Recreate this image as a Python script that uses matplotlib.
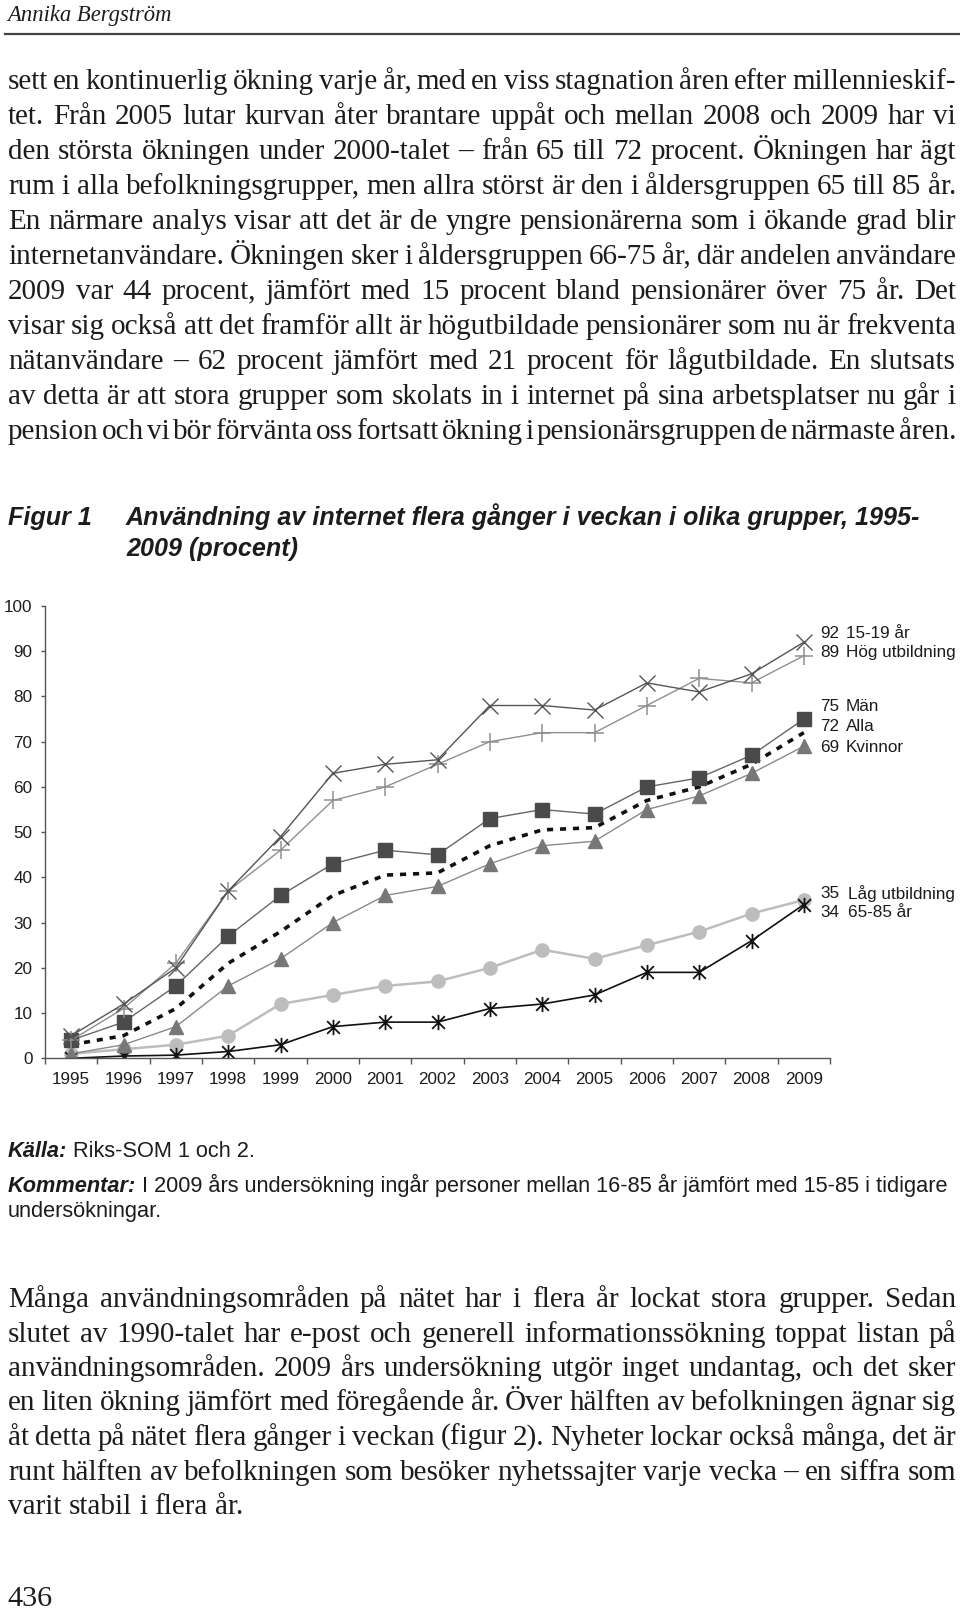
import matplotlib
matplotlib.use('Agg')
import numpy as np
import matplotlib.pyplot as plt
from matplotlib.path import Path

# chart data (percent)
years = list(range(1995, 2010))
aged_15_19 = [5, 12, 20, 37, 49, 63, 65, 66, 78, 78, 77, 83, 81, 85, 92]
high_edu = [4, 11, 21, 37, 46, 57, 60, 65, 70, 72, 72, 78, 84, 83, 89]
men = [4, 8, 16, 27, 36, 43, 46, 45, 53, 55, 54, 60, 62, 67, 75]
everyone = [3, 5, 11, 21, 28, 36, 40.5, 41, 47, 50.5, 51, 57, 60, 65, 72]
women = [1, 3, 7, 16, 22, 30, 36, 38, 43, 47, 48, 55, 58, 63, 69]
low_edu = [1, 2, 3, 5, 12, 14, 16, 17, 20, 24, 22, 25, 28, 32, 35]
aged_65_85 = [0, 0.5, 0.7, 1.5, 3, 7, 8, 8, 11, 12, 14, 19, 19, 26, 34]
series_names = ['15-19 år', 'Hög utbildning', 'Män', 'Alla', 'Kvinnor',
                'Låg utbildning', '65-85 år']
yticks = list(range(0, 101, 10))

header = 'Annika Bergström'
para1 = [
    'sett en kontinuerlig ökning varje år, med en viss stagnation åren efter millennieskif-',
    'tet. Från 2005 lutar kurvan åter brantare uppåt och mellan 2008 och 2009 har vi',
    'den största ökningen under 2000-talet – från 65 till 72 procent. Ökningen har ägt',
    'rum i alla befolkningsgrupper, men allra störst är den i åldersgruppen 65 till 85 år.',
    'En närmare analys visar att det är de yngre pensionärerna som i ökande grad blir',
    'internetanvändare. Ökningen sker i åldersgruppen 66-75 år, där andelen användare',
    '2009 var 44 procent, jämfört med 15 procent bland pensionärer över 75 år. Det',
    'visar sig också att det framför allt är högutbildade pensionärer som nu är frekventa',
    'nätanvändare – 62 procent jämfört med 21 procent för lågutbildade. En slutsats',
    'av detta är att stora grupper som skolats in i internet på sina arbetsplatser nu går i',
    'pension och vi bör förvänta oss fortsatt ökning i pensionärsgruppen de närmaste åren.',
]
para2 = [
    'Många användningsområden på nätet har i flera år lockat stora grupper. Sedan',
    'slutet av 1990-talet har e-post och generell informationssökning toppat listan på',
    'användningsområden. 2009 års undersökning utgör inget undantag, och det sker',
    'en liten ökning jämfört med föregående år. Över hälften av befolkningen ägnar sig',
    'åt detta på nätet flera gånger i veckan (figur 2). Nyheter lockar också många, det är',
    'runt hälften av befolkningen som besöker nyhetssajter varje vecka – en siffra som',
    'varit stabil i flera år.',
]
fig_label = 'Figur 1'
title_lines = ['Användning av internet flera gånger i veckan i olika grupper, 1995-',
               '2009 (procent)']
source_head, source_text = 'Källa:', 'Riks-SOM 1 och 2.'
note_head = 'Kommentar:'
note_lines = ['I 2009 års undersökning ingår personer mellan 16-85 år jämfört med 15-85 i tidigare',
              'undersökningar.']
page_no = '436'

SERIF = 'Liberation Serif'
SANS = 'Liberation Sans'
INK = '#1c1c1c'
CHART_FS = 12.3

fig = plt.figure(figsize=(9.6, 16.09), dpi=100)
page = fig.add_axes([0, 0, 1, 1])
page.set_xlim(0, 960)
page.set_ylim(1609, 0)
page.axis('off')
renderer = fig.canvas.get_renderer()


def measure(s, size, **kw):
    t = page.text(0, 0, s, fontsize=size, **kw)
    w = t.get_window_extent(renderer).width
    t.remove()
    return w


def fit(s, width, **kw):
    return 10 * width / measure(s, 10, **kw)


def space(size, **kw):
    return measure('a a', size, **kw) - measure('aa', size, **kw)


def runs(x, y, parts, size):
    # parts: list of (text, kwargs); a normal space goes between parts
    gap = space(size, family=SANS)
    for s, kw in parts:
        page.text(x, y, s, fontsize=size, va='baseline', ha='left', color=INK, **kw)
        x += measure(s, size, **kw) + gap


def justify(line, y, size, x0=8, x1=956, last=False):
    words = line.split()
    widths = [measure(w, size, family=SERIF) for w in words]
    if last:
        gap = space(size, family=SERIF)
    else:
        gap = (x1 - x0 - sum(widths)) / (len(words) - 1)
    x = x0
    for w, wd in zip(words, widths):
        page.text(x, y, w, fontsize=size, family=SERIF, va='baseline', ha='left', color=INK)
        x += wd + gap


# header + rule
page.text(7, 21, header, fontsize=fit(header, 165, family=SERIF, style='italic'),
          family=SERIF, style='italic', va='baseline', color=INK)
page.plot([5, 960], [34, 34], color='#444444', lw=1.6)

# body text: biggest size where every justified line still keeps ~45% of a space
full_lines = para1 + para2[:-1]
sp10 = space(10, family=SERIF)
ratios = []
for l in full_lines:
    words = l.split()
    natural = sum(measure(w, 10, family=SERIF) for w in words) + 0.45 * sp10 * (len(words) - 1)
    ratios.append(948 / natural)
body_size = 10 * min(ratios)
for i, line in enumerate(para1):
    justify(line, 89 + 35 * i, body_size)
for i, line in enumerate(para2):
    justify(line, 1307 + 34.5 * i, body_size, last=(i == len(para2) - 1))

# figure caption
tsize = fit(title_lines[0], 794, family=SANS, weight='bold', style='italic')
bi = dict(family=SANS, weight='bold', style='italic')
page.text(8, 525, fig_label, fontsize=tsize, va='baseline', color=INK, **bi)
page.text(126, 525, title_lines[0], fontsize=tsize, va='baseline', color=INK, **bi)
page.text(126, 556, title_lines[1], fontsize=tsize, va='baseline', color=INK, **bi)

# source and comment
reg = dict(family=SANS)
nsize = 10 * 947 / (measure(note_head, 10, **bi) + space(10, **reg)
                    + measure(note_lines[0], 10, **reg))
runs(8, 1157, [(source_head, bi), (source_text, reg)], nsize)
runs(8, 1192, [(note_head, bi), (note_lines[0], reg)], nsize)
page.text(8, 1217, note_lines[1], fontsize=nsize, va='baseline', color=INK, **reg)

# page number
page.text(7, 1606, page_no, fontsize=fit(page_no, 45, family=SERIF), family=SERIF,
          va='baseline', color=INK)

# ---- chart ----
ax = fig.add_axes([45 / 960, 1 - 1058.3 / 1609, 785 / 960, 452.3 / 1609])
x = np.arange(len(years))

asterisk = Path([(-1, -1), (1, 1), (-1, 1), (1, -1), (0, -1.2), (0, 1.2)],
                [Path.MOVETO, Path.LINETO, Path.MOVETO, Path.LINETO, Path.MOVETO, Path.LINETO])

ax.plot(x, low_edu, color='#bdbdbd', lw=1.8, marker='o', ms=9.5, mfc='#bdbdbd', mec='#bdbdbd')
ax.plot(x, aged_65_85, color='#111111', lw=1.2, marker=asterisk, ms=11, mew=1.3,
        mfc='none', mec='#111111')
ax.plot(x, women, color='#8a8a8a', lw=1.0, marker='^', ms=10.5, mfc='#777777', mec='#777777')
ax.plot(x, everyone, color='#111111', lw=2.6, ls=(0, (1.7, 1.9)))
ax.plot(x, men, color='#666666', lw=1.0, marker='s', ms=9.5, mfc='#4a4a4a', mec='#4a4a4a')
ax.plot(x, high_edu, color='#8f8f8f', lw=1.0, marker='+', ms=13, mew=1.1)
ax.plot(x, aged_15_19, color='#555555', lw=1.0, marker='x', ms=11, mew=1.0)

ax.set_xlim(-0.5, len(years) - 0.5)
ax.set_ylim(0, 100)
ax.set_yticks(yticks)
ax.set_xticks(x)
ax.set_xticklabels(years)
ax.set_xticks(np.arange(-0.5, len(years), 1), minor=True)
ax.tick_params(axis='x', which='major', length=0, pad=10, labelsize=CHART_FS, labelcolor=INK)
ax.tick_params(axis='x', which='minor', length=4, width=1, color='#555555', direction='out')
ax.tick_params(axis='y', length=3, width=1, color='#555555', pad=6, labelsize=CHART_FS,
               labelcolor=INK)
for lab in ax.get_xticklabels() + ax.get_yticklabels():
    lab.set_family(SANS)
for side in ['top', 'right']:
    ax.spines[side].set_visible(False)
for side in ['left', 'bottom']:
    ax.spines[side].set_color('#555555')
    ax.spines[side].set_linewidth(1.0)
ax.patch.set_alpha(0)

# end labels to the right of 2009
end_vals = [aged_15_19[-1], high_edu[-1], men[-1], everyone[-1], women[-1],
            low_edu[-1], aged_65_85[-1]]
label_y = [94.0, 89.8, 77.7, 73.3, 68.8, 36.5, 32.3]
label_x = [14.8, 14.8, 14.8, 14.8, 14.8, 14.85, 14.85]
for v, name, ly, lx in zip(end_vals, series_names, label_y, label_x):
    ax.text(14.31, ly, '%d' % round(v), fontsize=CHART_FS, family=SANS, color=INK,
            va='center', ha='left', clip_on=False)
    ax.text(lx, ly, name, fontsize=CHART_FS, family=SANS, color=INK,
            va='center', ha='left', clip_on=False)

fig.savefig('out.png', dpi=100)
